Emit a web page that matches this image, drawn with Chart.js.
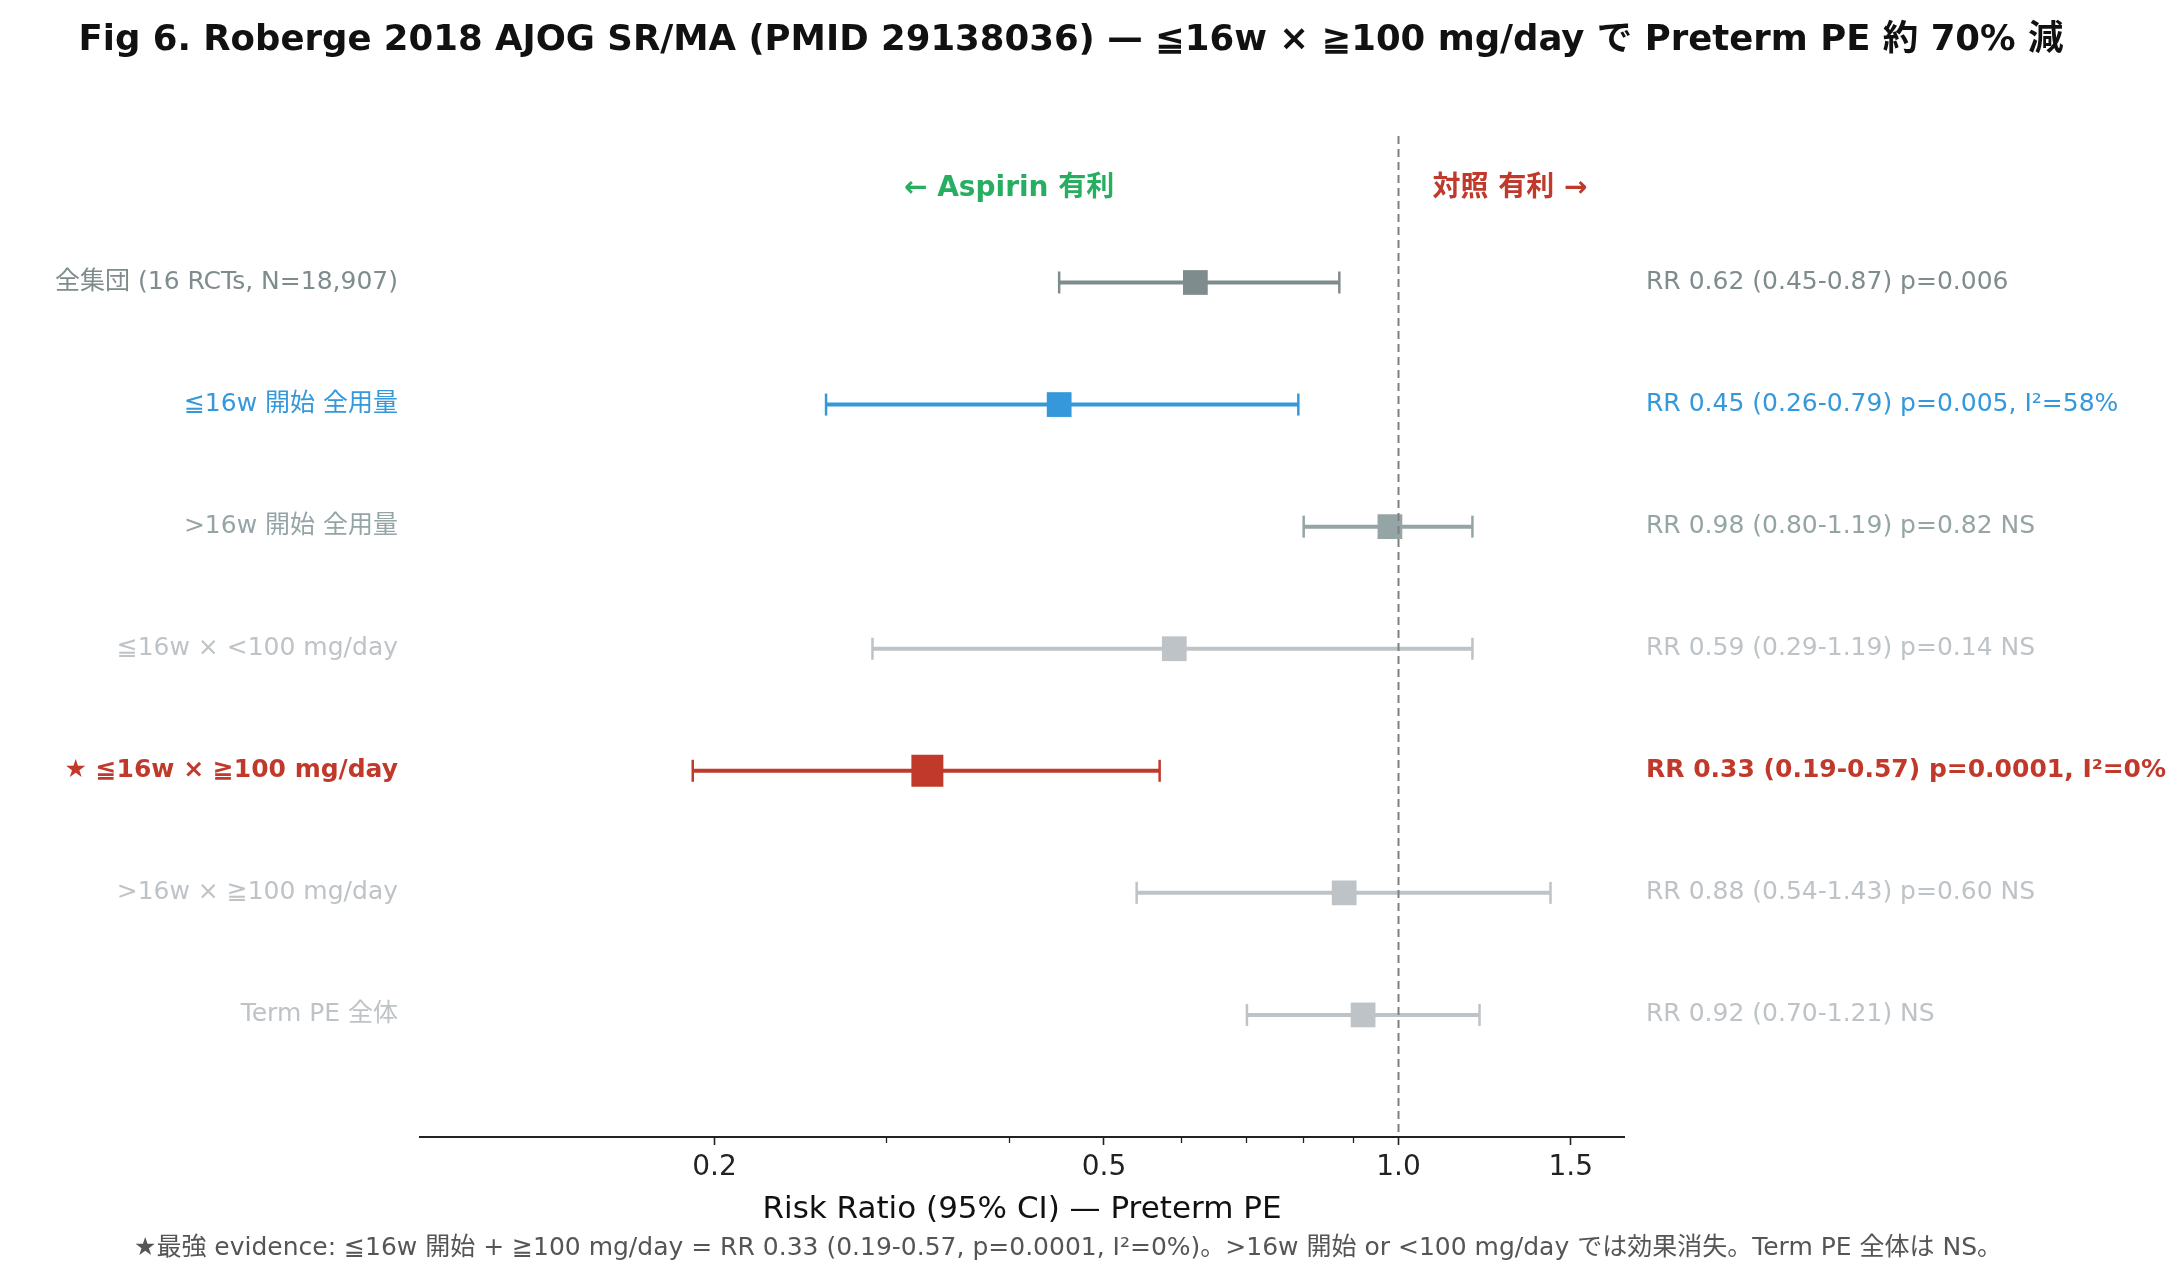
<!DOCTYPE html>
<html>
<head>
<meta charset="utf-8">
<script src="https://cdn.jsdelivr.net/npm/chart.js@4.4.1/dist/chart.umd.min.js"></script>
<style>
  html, body { margin: 0; padding: 0; background: #fff; }
  #wrap { width: 2181px; height: 1280px; position: relative; }
</style>
</head>
<body>
<div id="wrap"><canvas id="forest"></canvas></div>
<script>
// rows, top to bottom
var rowLabels = ['全集団 (16 RCTs, N=18,907)', '≦16w 開始 全用量', '>16w 開始 全用量', '≦16w × <100 mg/day',
  '★ ≦16w × ≧100 mg/day', '>16w × ≧100 mg/day', 'Term PE 全体'];
var rrValues = [0.62, 0.45, 0.98, 0.59, 0.33, 0.88, 0.92];
var ciLow = [0.45, 0.26, 0.80, 0.29, 0.19, 0.54, 0.70];
var ciHigh = [0.87, 0.79, 1.19, 1.19, 0.57, 1.43, 1.21];
var rightLabels = ['RR 0.62 (0.45-0.87) p=0.006', 'RR 0.45 (0.26-0.79) p=0.005, I²=58%', 'RR 0.98 (0.80-1.19) p=0.82 NS',
  'RR 0.59 (0.29-1.19) p=0.14 NS', 'RR 0.33 (0.19-0.57) p=0.0001, I²=0%', 'RR 0.88 (0.54-1.43) p=0.60 NS', 'RR 0.92 (0.70-1.21) NS'];
var rowColors = ['#7f8c8d', '#3498db', '#95a5a6', '#bdc3c7', '#c0392b', '#bdc3c7', '#bdc3c7'];
var highlightRow = 4;
var xMajorTicks = [0.2, 0.5, 1.0, 1.5];
var xTickLabels = ['0.2', '0.5', '1.0', '1.5'];
var xMinorTicks = [0.3, 0.4, 0.6, 0.7, 0.8, 0.9];

var FONT = '"DejaVu Sans", "Noto Sans CJK JP", sans-serif';

var datasets = [];
// null line (drawn on top)
datasets.push({
  data: [{x: 1.0, y: -1.2}, {x: 1.0, y: 7.0}],
  showLine: true,
  borderColor: '#808080',
  borderWidth: 2,
  borderDash: [8, 5],
  pointRadius: 0,
  order: 0
});
// squares
datasets.push({
  data: rrValues.map(function (v, i) { return {x: v, y: i}; }),
  pointStyle: 'rect',
  pointRadius: rrValues.map(function (v, i) { return i == highlightRow ? 22.6 : 17.5; }),
  pointBackgroundColor: rowColors,
  pointBorderWidth: 0,
  showLine: false,
  order: 1
});
// CI bars with caps
for (var i = 0; i < rowLabels.length; i++) {
  datasets.push({
    data: [{x: ciLow[i], y: i}, {x: ciHigh[i], y: i}],
    showLine: true,
    borderColor: rowColors[i],
    borderWidth: 4,
    pointStyle: 'line',
    pointRotation: 90,
    pointRadius: 11,
    pointBorderWidth: 2.5,
    pointBorderColor: rowColors[i],
    order: 2
  });
}

var rowTicks = function (axis) {
  axis.ticks = rowLabels.map(function (l, i) { return {value: i}; });
};
function rowOf(c) {
  if (c && c.tick) return c.tick.value;
  if (c && c.index != null) return c.index;
  return -1;
}
function rowFont(c) {
  return { family: FONT, size: 25, weight: rowOf(c) == highlightRow ? 'bold' : 'normal' };
}
function rowColor(c) {
  return rowColors[rowOf(c)] || '#7f8c8d';
}

var textPlugin = {
  id: 'texts',
  afterDraw: function (chart) {
    var ctx = chart.ctx;
    var x = chart.scales.x, y = chart.scales.y;
    ctx.save();
    ctx.textBaseline = 'middle';
    ctx.textAlign = 'center';
    ctx.fillStyle = '#111';
    ctx.font = 'bold 35.5px ' + FONT;
    ctx.fillText('Fig 6. Roberge 2018 AJOG SR/MA (PMID 29138036) — ≦16w × ≧100 mg/day で Preterm PE 約 70% 減', 1071, 41);

    ctx.font = 'bold 28px ' + FONT;
    ctx.fillStyle = '#27ae60';
    ctx.fillText('← Aspirin 有利', x.getPixelForValue(0.4), y.getPixelForValue(-0.77));
    ctx.fillStyle = '#c0392b';
    ctx.fillText('対照 有利 →', x.getPixelForValue(1.3), y.getPixelForValue(-0.77));

    ctx.font = '25px ' + FONT;
    ctx.fillStyle = '#555';
    ctx.fillText('★最強 evidence: ≦16w 開始 + ≧100 mg/day = RR 0.33 (0.19-0.57, p=0.0001, I²=0%)。>16w 開始 or <100 mg/day では効果消失。Term PE 全体は NS。', 1068, 1248);
    ctx.restore();
  }
};

new Chart(document.getElementById('forest'), {
  type: 'scatter',
  data: { datasets: datasets },
  options: {
    responsive: true,
    maintainAspectRatio: false,
    animation: false,
    layout: { padding: { top: 136, left: 0, right: 0, bottom: 0 } },
    plugins: { legend: { display: false }, tooltip: { enabled: false } },
    scales: {
      x: {
        type: 'logarithmic',
        min: 0.1,
        max: 1.7,
        afterBuildTicks: function (axis) {
          axis.ticks = xMajorTicks.map(function (v) { return {value: v}; });
        },
        afterFit: function (axis) { axis.height = 143; },
        grid: { display: true, drawOnChartArea: false, drawTicks: true, tickLength: 8, tickWidth: 1.6, tickColor: '#222' },
        border: { display: true, color: '#222', width: 2 },
        ticks: {
          autoSkip: false,
          maxRotation: 0,
          padding: 6,
          color: '#222',
          font: { family: FONT, size: 28 },
          callback: function (value, index) { return xTickLabels[index]; }
        },
        title: {
          display: true,
          text: 'Risk Ratio (95% CI) — Preterm PE',
          color: '#111',
          font: { family: FONT, size: 31 },
          padding: { top: 0, bottom: 51 }
        }
      },
      xMinor: {
        type: 'logarithmic',
        min: 0.1,
        max: 1.7,
        position: { y: 7.0 },
        afterBuildTicks: function (axis) {
          axis.ticks = xMinorTicks.map(function (v) { return {value: v}; });
        },
        grid: { display: true, drawOnChartArea: false, drawTicks: true, tickLength: 6, tickWidth: 1.3, tickColor: '#222' },
        border: { display: false },
        ticks: { display: false }
      },
      y: {
        type: 'linear',
        position: 'left',
        reverse: true,
        min: -1.2,
        max: 7.0,
        afterBuildTicks: rowTicks,
        afterFit: function (axis) { axis.width = 420; },
        grid: { display: false, drawTicks: false },
        border: { display: false },
        ticks: {
          padding: 22,
          autoSkip: false,
          callback: function (value) { return rowLabels[value]; },
          color: rowColor,
          font: rowFont
        }
      },
      y2: {
        type: 'linear',
        position: 'right',
        reverse: true,
        min: -1.2,
        max: 7.0,
        afterBuildTicks: rowTicks,
        afterFit: function (axis) { axis.width = 557; },
        grid: { display: false, drawTicks: false },
        border: { display: false },
        ticks: {
          padding: 22,
          autoSkip: false,
          callback: function (value) { return rightLabels[value]; },
          color: rowColor,
          font: rowFont
        }
      }
    }
  },
  plugins: [textPlugin]
});
</script>
</body>
</html>
